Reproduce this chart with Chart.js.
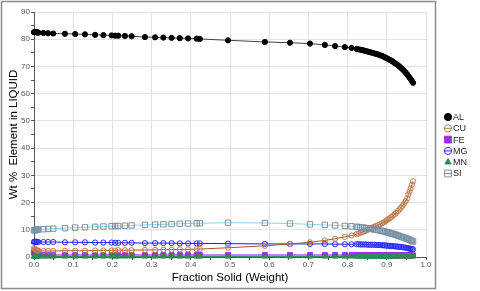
<!DOCTYPE html>
<html>
<head>
<meta charset="utf-8">
<script src="https://cdn.jsdelivr.net/npm/chart.js@4.4.1/dist/chart.umd.min.js"></script>
<style>
  html, body { margin: 0; padding: 0; background: #fff; }
  #wrap { width: 480px; height: 291px; }
</style>
</head>
<body>
<div id="wrap"><canvas id="scheilChart" width="480" height="291"></canvas></div>
<script>
// Fraction solid (weight) sample points
const fractionSolid = [
  0, 0.002, 0.004, 0.006, 0.008, 0.011, 0.024, 0.036, 0.049, 0.079,
  0.105, 0.13, 0.156, 0.177, 0.198, 0.207, 0.215, 0.232, 0.249, 0.283,
  0.309, 0.33, 0.351, 0.372, 0.393, 0.415, 0.423, 0.495, 0.589, 0.653,
  0.704, 0.742, 0.768, 0.793, 0.81, 0.823, 0.828, 0.833, 0.838, 0.843,
  0.848, 0.853, 0.858, 0.863, 0.868, 0.873, 0.878, 0.883, 0.888, 0.892,
  0.896, 0.9, 0.904, 0.908, 0.912, 0.916, 0.92, 0.924, 0.928, 0.932,
  0.936, 0.94, 0.944, 0.948, 0.952, 0.955, 0.958, 0.961, 0.964, 0.967
];

// Wt % element in liquid
const alValues = [
  82.6, 82.6, 82.7, 82.6, 82.5, 82.4, 82.3, 82.2, 82.1, 82.0,
  81.9, 81.8, 81.6, 81.5, 81.4, 81.3, 81.3, 81.2, 81.1, 80.8,
  80.7, 80.6, 80.5, 80.4, 80.3, 80.2, 80.1, 79.6, 79.0, 78.7,
  78.4, 77.9, 77.5, 77.1, 76.8, 76.4, 76.3, 76.1, 76.0, 75.8,
  75.6, 75.4, 75.2, 75.0, 74.8, 74.6, 74.4, 74.1, 73.9, 73.6,
  73.3, 73.0, 72.7, 72.4, 72.1, 71.7, 71.3, 70.9, 70.5, 70.0,
  69.5, 69.0, 68.4, 67.8, 67.1, 66.5, 65.9, 65.3, 64.7, 64.0
];
const cuValues = [
  3.2, 2.9, 2.7, 2.5, 2.4, 2.3, 2.2, 2.2, 2.2, 2.3,
  2.3, 2.3, 2.4, 2.4, 2.4, 2.4, 2.5, 2.5, 2.5, 2.6,
  2.6, 2.7, 2.7, 2.8, 2.8, 2.9, 2.9, 3.4, 4.1, 4.8,
  5.4, 6.1, 6.7, 7.4, 7.9, 8.4, 8.6, 8.9, 9.2, 9.5,
  9.8, 10.1, 10.4, 10.8, 11.1, 11.4, 11.7, 12.0, 12.4, 12.7,
  13.1, 13.5, 13.9, 14.3, 14.7, 15.2, 15.7, 16.2, 16.8, 17.4,
  18.1, 18.8, 19.6, 20.5, 21.5, 23.0, 24.0, 25.2, 26.5, 27.8
];
const feValues = [
  1.6, 1.3, 1.1, 0.9, 0.8, 0.8, 0.7, 0.7, 0.7, 0.7,
  0.7, 0.7, 0.7, 0.7, 0.7, 0.7, 0.7, 0.7, 0.7, 0.7,
  0.7, 0.7, 0.7, 0.7, 0.7, 0.7, 0.7, 0.7, 0.7, 0.7,
  0.7, 0.7, 0.7, 0.7, 0.7, 0.7, 0.7, 0.7, 0.7, 0.7,
  0.7, 0.7, 0.7, 0.7, 0.7, 0.7, 0.7, 0.7, 0.7, 0.7,
  0.7, 0.7, 0.7, 0.7, 0.7, 0.7, 0.6, 0.6, 0.6, 0.6,
  0.6, 0.6, 0.6, 0.6, 0.6, 0.6, 0.6, 0.6, 0.6, 0.6
];
const mgValues = [
  5.6, 5.6, 5.6, 5.6, 5.6, 5.5, 5.5, 5.5, 5.5, 5.4,
  5.4, 5.4, 5.3, 5.3, 5.3, 5.2, 5.2, 5.2, 5.2, 5.1,
  5.1, 5.1, 5.1, 5.0, 5.0, 5.0, 5.0, 4.9, 4.8, 4.8,
  4.8, 4.8, 4.7, 4.7, 4.7, 4.7, 4.7, 4.6, 4.6, 4.6,
  4.6, 4.5, 4.5, 4.5, 4.5, 4.4, 4.4, 4.4, 4.3, 4.3,
  4.2, 4.2, 4.1, 4.1, 4.0, 4.0, 3.9, 3.9, 3.8, 3.7,
  3.7, 3.6, 3.5, 3.4, 3.3, 3.2, 3.1, 3.0, 2.9, 2.8
];
const mnValues = [
  0.2, 0.2, 0.2, 0.2, 0.2, 0.2, 0.2, 0.2, 0.2, 0.2,
  0.2, 0.2, 0.2, 0.2, 0.2, 0.2, 0.2, 0.2, 0.2, 0.2,
  0.2, 0.2, 0.2, 0.2, 0.2, 0.2, 0.2, 0.2, 0.2, 0.2,
  0.2, 0.2, 0.2, 0.2, 0.2, 0.2, 0.2, 0.2, 0.2, 0.2,
  0.2, 0.2, 0.2, 0.2, 0.2, 0.2, 0.2, 0.2, 0.2, 0.2,
  0.2, 0.2, 0.2, 0.2, 0.2, 0.2, 0.2, 0.2, 0.2, 0.3,
  0.3, 0.3, 0.3, 0.3, 0.3, 0.3, 0.3, 0.3, 0.3, 0.3
];
const siValues = [
  9.8, 9.9, 9.9, 10.0, 10.0, 10.1, 10.2, 10.3, 10.4, 10.6,
  10.8, 10.9, 11.1, 11.2, 11.3, 11.4, 11.4, 11.5, 11.6, 11.8,
  11.9, 12.0, 12.1, 12.2, 12.3, 12.4, 12.4, 12.6, 12.5, 12.3,
  12.0, 11.8, 11.6, 11.4, 11.3, 11.1, 11.0, 10.9, 10.8, 10.7,
  10.6, 10.5, 10.4, 10.3, 10.1, 10.0, 9.9, 9.7, 9.6, 9.4,
  9.3, 9.1, 9.0, 8.8, 8.6, 8.5, 8.3, 8.1, 7.9, 7.7,
  7.5, 7.3, 7.1, 6.9, 6.7, 6.5, 6.3, 6.1, 5.9, 5.7
];

const elementNames = ['AL', 'CU', 'FE', 'MG', 'MN', 'SI'];
const xTickValues = [0, 0.1, 0.2, 0.3, 0.4, 0.5, 0.6, 0.7, 0.8, 0.9, 1.0];
const yTickValues = [0, 10, 20, 30, 40, 50, 60, 70, 80, 90];

const toPoints = (vals) => vals.map((v, i) => ({ x: fractionSolid[i], y: v }));
const isMajor = (list, v) => list.some(t => Math.abs(t - v) < 1e-6);

// outer frame + legend drawn by hand, like the original report plot
const framePlugin = {
    id: 'frame',
    beforeDraw(chart) {
        const ctx = chart.ctx;
        ctx.save();
        ctx.fillStyle = '#ffffff';
        ctx.fillRect(0, 0, chart.width, chart.height);
        ctx.strokeStyle = '#8a8a8a';
        ctx.lineWidth = 1.5;
        ctx.strokeRect(1.5, 1.5, chart.chartArea.right + 8, chart.height - 4);
        ctx.restore();
    },
    afterDraw(chart) {
        const ctx = chart.ctx;
        const lx = chart.chartArea.right + 22;
        let ly = 117;
        ctx.save();
        ctx.font = '9px "Liberation Sans", Arial, sans-serif';
        ctx.textBaseline = 'middle';
        chart.data.datasets.forEach(ds => {
            if (ds.legendLine) {
                ctx.strokeStyle = ds.pointBorderColor;
                ctx.lineWidth = 1;
                ctx.beginPath();
                ctx.moveTo(lx - 4, ly);
                ctx.lineTo(lx + 4, ly);
                ctx.stroke();
            }
            ctx.fillStyle = ds.pointBackgroundColor;
            ctx.strokeStyle = ds.pointBorderColor;
            Chart.helpers.drawPoint(ctx, {
                pointStyle: ds.pointStyle, radius: ds.pointStyle === 'rect' ? 4.8 : 3.6, rotation: 0, borderWidth: 1
            }, lx, ly);
            ctx.fillStyle = '#222';
            ctx.fillText(ds.label, lx + 5, ly + 0.5);
            ly += 11.3;
        });
        ctx.restore();
    }
};

const ctx = document.getElementById('scheilChart').getContext('2d');
new Chart(ctx, {
    type: 'line',
    data: {
        datasets: [
            {
                label: elementNames[0], data: toPoints(alValues), order: 1, clip: false,
                borderColor: '#444', borderWidth: 1,
                pointStyle: 'circle', pointRadius: 2.6,
                pointBackgroundColor: '#000', pointBorderColor: '#000', pointBorderWidth: 1
            },
            {
                label: elementNames[1], data: toPoints(cuValues), order: 3, legendLine: true, clip: false,
                borderColor: '#9c5a30', borderWidth: 1,
                pointStyle: 'circle', pointRadius: 2.6,
                pointBackgroundColor: 'rgba(255,255,255,0)', pointBorderColor: '#c07a4a', pointBorderWidth: 1
            },
            {
                label: elementNames[2], data: toPoints(feValues), order: 6, clip: false,
                borderColor: '#b455f0', borderWidth: 1.5,
                pointStyle: 'rect', pointRadius: 3.5,
                pointBackgroundColor: '#9a2ee6', pointBorderColor: '#9a2ee6', pointBorderWidth: 1
            },
            {
                label: elementNames[3], data: toPoints(mgValues), order: 4, legendLine: true, clip: false,
                borderColor: '#1a1aff', borderWidth: 1,
                pointStyle: 'circle', pointRadius: 2.6,
                pointBackgroundColor: 'rgba(255,255,255,0)', pointBorderColor: '#2a2aff', pointBorderWidth: 1
            },
            {
                label: elementNames[4], data: toPoints(mnValues), order: 5, clip: false,
                borderColor: '#2e8b57', borderWidth: 1,
                pointStyle: 'triangle', pointRadius: 3.3,
                pointBackgroundColor: '#2e8b57', pointBorderColor: '#2e8b57', pointBorderWidth: 1
            },
            {
                label: elementNames[5], data: toPoints(siValues), order: 2, legendLine: true, clip: false,
                borderColor: '#8fd0ec', borderWidth: 1,
                pointStyle: 'rect', pointRadius: 3.8,
                pointBackgroundColor: 'rgba(255,255,255,0)', pointBorderColor: '#7890a2', pointBorderWidth: 1
            }
        ]
    },
    options: {
        responsive: false,
        animation: false,
        layout: { padding: { left: 2, right: 54, top: 12, bottom: 0 } },
        plugins: {
            legend: { display: false },
            tooltip: { enabled: false }
        },
        scales: {
            x: {
                type: 'linear', min: 0, max: 1,
                afterFit: s => { s.height = 34; },
                border: { display: true, color: '#555', width: 1 },
                grid: {
                    color: c => isMajor(xTickValues, c.tick.value) ? '#e2e2e2' : 'rgba(0,0,0,0)',
                    tickColor: '#555', tickLength: 3
                },
                ticks: {
                    stepSize: 0.05, autoSkip: false, maxRotation: 0, padding: 0,
                    color: '#555', font: { size: 8, family: '"Liberation Sans", Arial, sans-serif' },
                    callback: v => isMajor(xTickValues, v) ? v.toFixed(1) : ''
                },
                title: {
                    display: true, text: 'Fraction Solid (Weight)', color: '#000',
                    font: { size: 11.5, family: '"Liberation Sans", Arial, sans-serif' },
                    padding: { top: 6, bottom: 6 }
                }
            },
            y: {
                min: 0, max: 90,
                afterFit: s => { s.width = 32; },
                border: { display: true, color: '#555', width: 1 },
                grid: {
                    color: c => isMajor(yTickValues, c.tick.value) ? '#e2e2e2' : 'rgba(0,0,0,0)',
                    tickColor: '#555', tickLength: 3
                },
                ticks: {
                    stepSize: 5, autoSkip: false, padding: 1,
                    color: '#555', font: { size: 8, family: '"Liberation Sans", Arial, sans-serif' },
                    callback: v => isMajor(yTickValues, v) ? String(v) : ''
                },
                title: {
                    display: true, text: 'Wt %  Element in LIQUID', color: '#000',
                    font: { size: 11.5, family: '"Liberation Sans", Arial, sans-serif' },
                    padding: { top: 5, bottom: 5 }
                }
            }
        }
    },
    plugins: [framePlugin]
});
</script>
</body>
</html>
